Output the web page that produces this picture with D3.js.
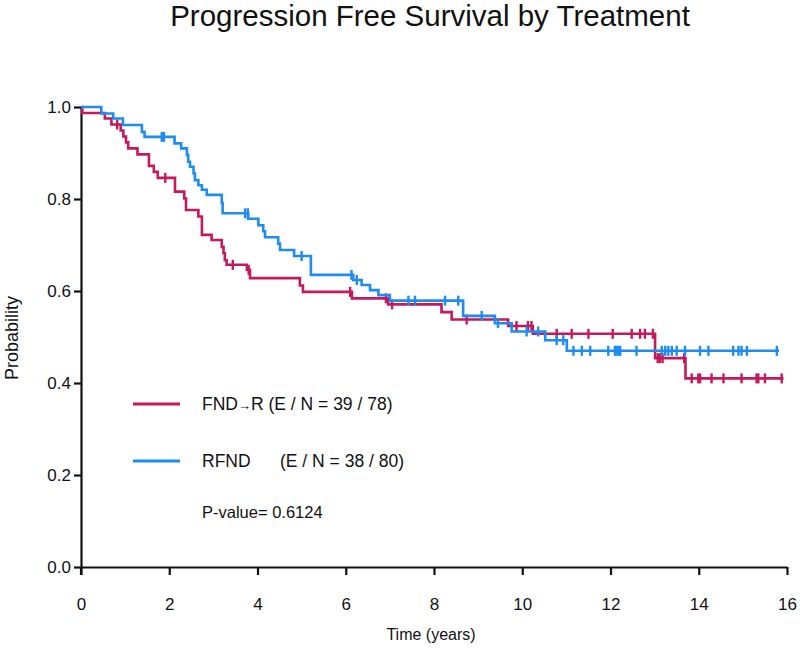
<!DOCTYPE html>
<html>
<head>
<meta charset="utf-8">
<script src="https://cdn.jsdelivr.net/npm/d3@7"></script>
<style>
  html, body { margin: 0; padding: 0; background: #fff; }
  svg { display: block; font-family: "Liberation Sans", Arial, sans-serif; }
</style>
</head>
<body>
<svg id="chart" width="800" height="658"></svg>
<script>
// ---------- DATA ----------
const xTicks = [0, 2, 4, 6, 8, 10, 12, 14, 16];
const yTicks = [0.0, 0.2, 0.4, 0.6, 0.8, 1.0];

// FND→R arm: event times and survival after each event
const fndrTimes = [0.03, 0.54, 0.69, 0.90, 0.96, 1.02, 1.07, 1.28, 1.54, 1.65, 1.74, 2.13, 2.34, 2.38, 2.66, 2.74, 2.96, 3.19, 3.23, 3.26, 3.30, 3.76, 3.83, 4.96, 5.03, 6.14, 6.96, 8.17, 8.40, 9.68, 10.24, 13.01, 13.70];
const fndrSurv  = [0.987, 0.975, 0.962, 0.949, 0.936, 0.923, 0.910, 0.897, 0.872, 0.859, 0.846, 0.816, 0.801, 0.776, 0.762, 0.722, 0.711, 0.696, 0.682, 0.667, 0.657, 0.646, 0.628, 0.612, 0.598, 0.584, 0.571, 0.554, 0.538, 0.524, 0.507, 0.454, 0.410];
const fndrCensor = [0.82, 1.91, 3.44, 3.80, 6.10, 6.91, 7.05, 8.74, 9.87, 10.13, 10.21, 10.78, 11.12, 11.50, 12.05, 12.48, 12.67, 12.78, 12.96, 13.07, 13.12, 13.18, 13.67, 13.84, 13.99, 14.03, 14.29, 14.56, 14.97, 15.31, 15.35, 15.50, 15.88];
const fndrEnd = 15.92;

// RFND arm
const rfndTimes = [0.46, 0.73, 0.95, 1.38, 1.44, 2.12, 2.27, 2.40, 2.43, 2.47, 2.55, 2.58, 2.66, 2.74, 2.85, 3.19, 3.21, 3.79, 4.02, 4.13, 4.17, 4.47, 4.51, 4.83, 5.21, 6.17, 6.36, 6.55, 6.74, 7.00, 8.66, 9.38, 9.76, 10.52, 11.01];
const rfndSurv  = [0.986, 0.975, 0.961, 0.946, 0.935, 0.921, 0.910, 0.896, 0.881, 0.870, 0.856, 0.841, 0.830, 0.820, 0.809, 0.791, 0.769, 0.757, 0.743, 0.730, 0.717, 0.703, 0.689, 0.676, 0.635, 0.624, 0.613, 0.602, 0.591, 0.579, 0.546, 0.530, 0.512, 0.493, 0.470];
const rfndCensor = [1.83, 1.88, 3.72, 3.78, 5.00, 6.13, 6.25, 7.42, 7.57, 8.25, 8.55, 9.08, 9.45, 10.10, 10.36, 10.78, 10.93, 11.16, 11.35, 11.54, 11.95, 12.10, 12.14, 12.18, 12.22, 12.59, 13.16, 13.24, 13.31, 13.39, 13.50, 13.69, 14.03, 14.22, 14.78, 14.90, 14.97, 15.09, 15.77];
const rfndEnd = 15.82;

const seriesNames = ["FND→R", "RFND"];
const seriesEN = ["(E / N = 39 / 78)", "(E / N = 38 / 80)"];
const pValueText = "P-value= 0.6124";
const colors = ["#c4195d", "#1e8cf0"];

// ---------- CHART ----------
const svg = d3.select("#chart");
const x = d3.scaleLinear().domain([0, 16]).range([81, 787]);
const y = d3.scaleLinear().domain([0, 1]).range([567, 107]);

// Title
svg.append("text").attr("x", 430).attr("y", 26).attr("text-anchor", "middle")
  .attr("font-size", 29.5).attr("fill", "#111").text("Progression Free Survival by Treatment");

// Axes
const xAxis = svg.append("g").attr("transform", `translate(0,${y(0)})`)
  .call(d3.axisBottom(x).tickValues(xTicks).tickFormat(d3.format("d")).tickSize(8).tickPadding(23).tickSizeOuter(0));
const yAxis = svg.append("g").attr("transform", `translate(${x(0)},0)`)
  .call(d3.axisLeft(y).tickValues(yTicks).tickFormat(d3.format(".1f")).tickSize(7).tickPadding(3).tickSizeOuter(0));
[xAxis, yAxis].forEach(g => {
  g.select(".domain").attr("stroke", "#111").attr("stroke-width", 2.2);
  g.selectAll(".tick line").attr("stroke", "#111").attr("stroke-width", 2.2);
  g.selectAll(".tick text").attr("fill", "#111").attr("font-size", 17)
    .attr("font-family", "'Liberation Sans', Arial, sans-serif");
});
svg.append("line").attr("x1", x(0)).attr("x2", x(0)).attr("y1", y(0)).attr("y2", y(0) + 8)
  .attr("stroke", "#111").attr("stroke-width", 2.2);

// Axis labels
svg.append("text").attr("x", 431).attr("y", 640).attr("text-anchor", "middle")
  .attr("font-size", 16).attr("fill", "#111").text("Time (years)");
svg.append("text").attr("transform", "translate(18,338) rotate(-90)").attr("text-anchor", "middle")
  .attr("font-size", 18).attr("fill", "#111").text("Probability");

// KM curves
function buildSeries(times, surv, end) {
  const pts = [[0, 1]];
  times.forEach((t, i) => pts.push([t, surv[i]]));
  pts.push([end, surv[surv.length - 1]]);
  return pts;
}
function survAt(times, surv, t) {
  let s = 1;
  for (let i = 0; i < times.length; i++) { if (times[i] <= t) s = surv[i]; }
  return s;
}
const line = d3.line().x(d => x(d[0])).y(d => y(d[1])).curve(d3.curveStepAfter);

const series = [
  { times: fndrTimes, surv: fndrSurv, censor: fndrCensor, end: fndrEnd, color: colors[0] },
  { times: rfndTimes, surv: rfndSurv, censor: rfndCensor, end: rfndEnd, color: colors[1] }
];

series.forEach(s => {
  svg.append("path").datum(buildSeries(s.times, s.surv, s.end))
    .attr("d", line).attr("fill", "none").attr("stroke", s.color).attr("stroke-width", 2.6);
  svg.append("g").selectAll("line").data(s.censor).join("line")
    .attr("x1", d => x(d)).attr("x2", d => x(d))
    .attr("y1", d => y(survAt(s.times, s.surv, d)) - 5)
    .attr("y2", d => y(survAt(s.times, s.surv, d)) + 5)
    .attr("stroke", s.color).attr("stroke-width", 2.4);
});

// Legend
const legY = [404, 461];
legY.forEach((ly, i) => {
  svg.append("line").attr("x1", 133).attr("x2", 180).attr("y1", ly).attr("y2", ly)
    .attr("stroke", colors[i]).attr("stroke-width", 2.8);
});
const t1 = svg.append("text").attr("x", 202).attr("y", 410).attr("font-size", 17.5).attr("fill", "#111");
t1.append("tspan").text("FND");
t1.append("tspan").attr("font-size", 13).text("→");
t1.append("tspan").text("R " + seriesEN[0]);
svg.append("text").attr("x", 202).attr("y", 467).attr("font-size", 17.5).attr("fill", "#111").text(seriesNames[1]);
svg.append("text").attr("x", 280).attr("y", 467).attr("font-size", 17.5).attr("fill", "#111").text(seriesEN[1]);
svg.append("text").attr("x", 202).attr("y", 518).attr("font-size", 16.5).attr("fill", "#111").text(pValueText);
</script>
</body>
</html>
